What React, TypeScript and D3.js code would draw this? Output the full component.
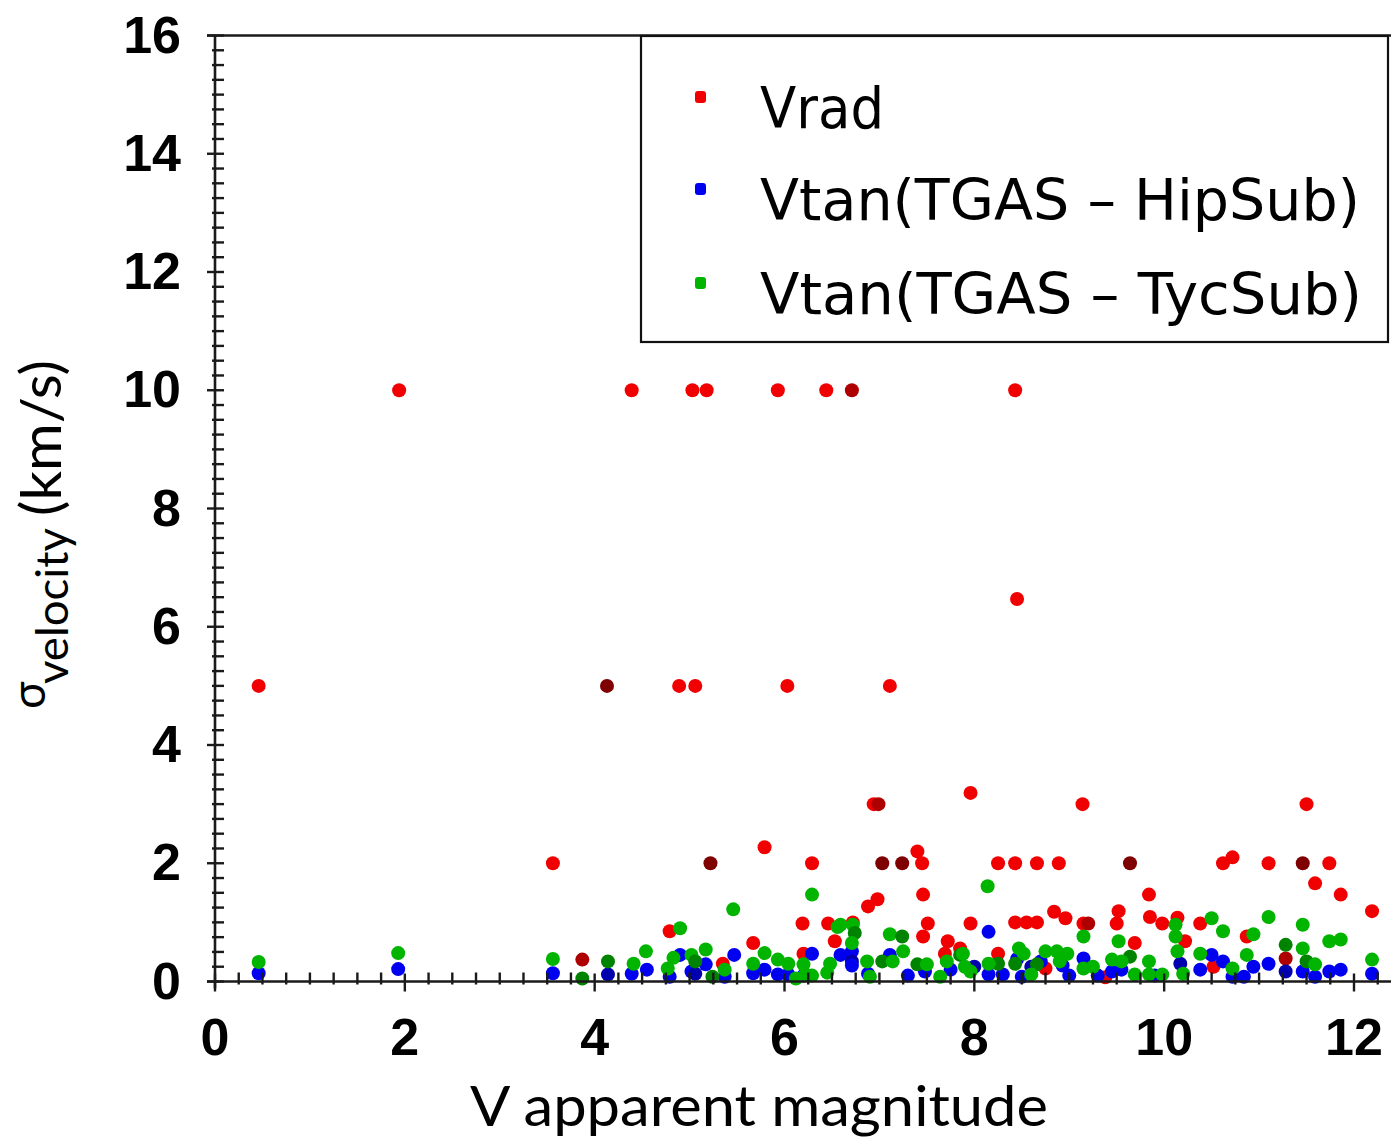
import React from "react";
import * as d3 from "d3";

// [V magnitude, sigma (km/s), number of coincident stars]
const vradPoints: [number, number, number][] = [
  [0.46, 5.0, 1], [1.94, 10, 1], [3.56, 2, 1], [3.87, 0.37, 2], [4.13, 5, 3],
  [4.39, 10, 1], [4.89, 5, 1], [5.06, 5, 1], [5.03, 10, 1], [5.18, 10, 1],
  [5.93, 10, 1], [6.44, 10, 1], [6.71, 10, 2], [8.43, 10, 1], [8.45, 6.47, 1],
  [6.03, 5, 1], [7.11, 5, 1], [5.22, 2, 3], [5.79, 2.27, 1], [6.29, 2, 1],
  [6.94, 3.0, 1], [6.99, 3.0, 2], [7.03, 2, 3], [7.24, 2, 3], [7.4, 2.2, 1],
  [7.45, 2, 1], [7.46, 1.47, 1], [7.51, 0.98, 1], [7.46, 0.76, 1], [7.96, 3.19, 1],
  [7.96, 0.98, 1], [7.72, 0.68, 1], [7.69, 0.47, 1], [7.85, 0.56, 1], [6.19, 0.98, 1],
  [6.2, 0.47, 1], [6.46, 0.98, 1], [6.53, 0.68, 1], [6.72, 1.0, 1], [6.88, 1.27, 1],
  [6.98, 1.39, 1], [4.79, 0.85, 1], [5.35, 0.3, 1], [5.67, 0.65, 1], [8.25, 2, 1],
  [8.43, 2, 1], [8.66, 2, 1], [8.89, 2, 1], [9.14, 3.0, 1], [9.64, 2, 3],
  [10.62, 2, 1], [10.72, 2.1, 1], [11.1, 2, 1], [11.46, 2, 3], [11.74, 2, 1],
  [11.5, 3.0, 1], [11.59, 1.66, 1], [11.86, 1.47, 1], [12.19, 1.19, 1], [8.43, 1.0, 1],
  [8.55, 1.0, 1], [8.66, 1.0, 1], [8.84, 1.18, 1], [8.96, 1.07, 1], [9.15, 0.98, 1],
  [9.2, 0.98, 2], [9.52, 1.19, 1], [9.5, 0.98, 1], [9.84, 1.47, 1], [9.85, 1.09, 1],
  [9.98, 0.98, 1], [10.14, 1.08, 1], [10.22, 0.68, 1], [10.38, 0.98, 1], [10.52, 0.25, 1],
  [10.87, 0.76, 1], [8.25, 0.47, 1], [9.69, 0.65, 1], [11.28, 0.39, 2], [9.38, 0.07, 1],
  [8.75, 0.22, 1],
];

const hipSubPoints: [number, number, number][] = [
  [0.46, 0.14, 1], [1.93, 0.21, 1], [3.56, 0.14, 1], [4.14, 0.12, 2], [4.39, 0.13, 1],
  [4.55, 0.2, 1], [4.79, 0.08, 1], [4.9, 0.45, 1], [5.02, 0.17, 1], [5.06, 0.13, 2],
  [5.17, 0.29, 1], [5.37, 0.08, 1], [5.47, 0.45, 1], [5.67, 0.14, 1], [5.79, 0.2, 1],
  [5.93, 0.12, 1], [6.04, 0.12, 1], [6.29, 0.47, 1], [6.59, 0.45, 1], [6.71, 0.51, 1],
  [6.71, 0.34, 2], [6.71, 0.27, 1], [6.88, 0.13, 1], [7.11, 0.45, 1], [7.48, 0.17, 1],
  [7.75, 0.2, 1], [8.0, 0.25, 2], [8.15, 0.84, 1], [8.15, 0.12, 1], [8.3, 0.12, 1],
  [8.5, 0.08, 1], [8.6, 0.25, 2], [8.7, 0.34, 1], [8.93, 0.27, 1], [9.0, 0.1, 1],
  [9.15, 0.39, 1], [9.3, 0.1, 1], [9.45, 0.17, 1], [9.55, 0.2, 1], [9.9, 0.1, 1],
  [10.17, 0.3, 2], [10.38, 0.2, 1], [10.5, 0.45, 1], [10.62, 0.34, 1], [10.72, 0.08, 1],
  [10.84, 0.08, 1], [10.94, 0.25, 1], [11.1, 0.3, 1], [11.28, 0.17, 2], [11.46, 0.17, 1],
  [11.59, 0.08, 1], [11.74, 0.17, 1], [11.86, 0.2, 1], [12.19, 0.13, 1], [8.45, 0.38, 1],
  [7.3, 0.1, 1], [6.2, 0.1, 1],
];

const tycSubPoints: [number, number, number][] = [
  [0.46, 0.33, 1], [1.93, 0.48, 1], [3.56, 0.38, 1], [3.87, 0.05, 2], [4.14, 0.34, 2],
  [4.41, 0.3, 1], [4.54, 0.51, 1], [4.77, 0.22, 1], [4.83, 0.4, 1], [4.9, 0.9, 1],
  [5.02, 0.45, 1], [5.06, 0.34, 2], [5.17, 0.54, 1], [5.24, 0.08, 2], [5.37, 0.2, 1],
  [5.46, 1.22, 1], [5.67, 0.3, 1], [5.79, 0.48, 1], [5.93, 0.37, 1], [6.04, 0.3, 1],
  [6.2, 0.29, 1], [6.22, 0.12, 1], [6.29, 1.47, 1], [6.29, 0.1, 1], [6.48, 0.3, 1],
  [6.45, 0.15, 1], [6.59, 0.96, 1], [6.72, 0.96, 1], [6.74, 0.82, 2], [6.71, 0.65, 1],
  [6.87, 0.34, 1], [6.9, 0.08, 1], [7.11, 0.8, 1], [7.24, 0.76, 2], [7.25, 0.51, 1],
  [7.03, 0.34, 2], [7.14, 0.34, 1], [7.4, 0.29, 2], [7.5, 0.29, 1], [7.64, 0.08, 1],
  [7.71, 0.34, 1], [7.85, 0.45, 2], [7.9, 0.25, 1], [7.88, 0.47, 1], [7.96, 0.17, 1],
  [8.14, 1.61, 1], [8.25, 0.3, 2], [8.15, 0.3, 1], [8.47, 0.56, 1], [8.52, 0.47, 1],
  [8.43, 0.3, 2], [8.66, 0.29, 2], [8.6, 0.12, 1], [8.75, 0.51, 1], [8.87, 0.51, 1],
  [8.98, 0.47, 1], [8.9, 0.34, 1], [9.15, 0.76, 1], [9.15, 0.22, 1], [9.25, 0.25, 1],
  [9.52, 0.68, 1], [9.45, 0.37, 1], [9.64, 0.42, 2], [9.55, 0.34, 1], [9.69, 0.12, 1],
  [9.84, 0.34, 1], [9.84, 0.12, 1], [9.98, 0.12, 1], [10.12, 0.96, 1], [10.12, 0.76, 1],
  [10.14, 0.51, 1], [10.2, 0.13, 1], [10.38, 0.47, 1], [10.5, 1.07, 1], [10.62, 0.85, 1],
  [10.72, 0.22, 1], [10.87, 0.45, 1], [10.94, 0.8, 1], [11.1, 1.09, 1], [11.28, 0.62, 2],
  [11.46, 0.96, 1], [11.46, 0.56, 1], [11.5, 0.34, 2], [11.59, 0.29, 1], [11.74, 0.68, 1],
  [11.86, 0.71, 1], [12.19, 0.37, 1], [6.12, 0.05, 1], [6.56, 0.92, 1],
];

const xTickValues = [0, 2, 4, 6, 8, 10, 12];
const yTickValues = [0, 2, 4, 6, 8, 10, 12, 14, 16];
const seriesNames = ["Vrad", "Vtan(TGAS \u2013 HipSub)", "Vtan(TGAS \u2013 TycSub)"];
const seriesColors = ["#f00000", "#0000f0", "#00b400"];
const xTitle = "V apparent magnitude";

export default function App() {
  const W = 1391;
  const H = 1138;
  const x = d3.scaleLinear().domain([0, 12]).range([215, 1354]);
  const y = d3.scaleLinear().domain([0, 16]).range([981.5, 35.5]);
  const x0 = x(0);
  const y0 = y(0);
  const axisColor = "#1a1a1a";
  const xMinor = d3.range(0, 12.3, 0.25).filter((v) => Math.abs(v % 2) > 1e-6);
  const yMinor = d3.range(0, 16, 0.25).filter((v) => Math.abs(v % 2) > 1e-6);
  const series = [vradPoints, hipSubPoints, tycSubPoints];
  const tickFont = "'Liberation Sans', Arial, sans-serif";

  return (
    <div style={{ position: "absolute", left: 0, top: 0 }}>
      <svg width={W} height={H} style={{ display: "block", background: "#fff" }}>
        <rect x={0} y={0} width={W} height={H} fill="#fff" />
        {/* points */}
        {series.map((pts, si) => (
          <g key={si}>
            {pts.map((p, i) => {
              const c = d3.color(seriesColors[si])!;
              const fill = p[2] > 1 ? c.darker((p[2] - 1) * 0.9).formatHex() : seriesColors[si];
              return <circle key={i} cx={x(p[0])} cy={y(p[1])} r={7} fill={fill} />;
            })}
          </g>
        ))}
        {/* axes */}
        <line x1={x0} x2={x0} y1={y(16)} y2={y0 + 7} stroke={axisColor} strokeWidth={2.6} />
        <line x1={x0 - 8} x2={W} y1={y0} y2={y0} stroke={axisColor} strokeWidth={2.6} />
        <line x1={x0 - 8} x2={W} y1={y(16)} y2={y(16)} stroke={axisColor} strokeWidth={2.6} />
        {xMinor.map((v, i) => (
          <line key={"xm" + i} x1={x(v)} x2={x(v)} y1={y0 - 9} y2={y0 + 3} stroke={axisColor} strokeWidth={2.4} />
        ))}
        {xTickValues.map((v) => (
          <line key={"xM" + v} x1={x(v)} x2={x(v)} y1={y0 - 8} y2={y0 + 10} stroke={axisColor} strokeWidth={2.4} />
        ))}
        {yMinor.map((v, i) => (
          <line key={"ym" + i} x1={x0 - 3} x2={x0 + 9} y1={y(v)} y2={y(v)} stroke={axisColor} strokeWidth={2.4} />
        ))}
        {yTickValues.map((v) => (
          <line key={"yM" + v} x1={x0 - 8} x2={x0 + 9} y1={y(v)} y2={y(v)} stroke={axisColor} strokeWidth={2.4} />
        ))}
        {/* tick labels */}
        {xTickValues.map((v) => (
          <text key={"xl" + v} x={x(v)} y={1037} textAnchor="middle" dominantBaseline="central"
            fontFamily={tickFont} fontWeight="bold" fontSize={52} fill="#000">
            {v}
          </text>
        ))}
        {yTickValues.map((v) => (
          <text key={"yl" + v} x={181} y={y(v) - 1} textAnchor="end" dominantBaseline="central"
            fontFamily={tickFont} fontWeight="bold" fontSize={52} fill="#000">
            {v}
          </text>
        ))}
        {/* axis titles */}
        <text x={470} y={1126} fontFamily="Lato, 'Open Sans', sans-serif" fontSize={56}
          textLength={578} lengthAdjust="spacingAndGlyphs" fill="#000">
          {xTitle}
        </text>
        <g transform="rotate(-90)" fontFamily="Lato, 'Open Sans', sans-serif" fill="#000">
          <text x={-709} y={45} fontSize={46}>σ</text>
          <text x={-684} y={68} fontSize={44} textLength={156} lengthAdjust="spacingAndGlyphs">velocity</text>
          <text x={-516} y={61} fontSize={56} textLength={156} lengthAdjust="spacingAndGlyphs">(km/s)</text>
        </g>
        {/* legend */}
        <rect x={641} y={36} width={747} height={306} fill="#fff" stroke="#111" strokeWidth={2.2} />
        {seriesNames.map((name, i) => {
          const cy = [97, 189, 283][i];
          const tl = [124, 600, 602][i];
          return (
            <g key={name}>
              <rect x={695} y={cy - 6} width={11} height={12} rx={3} fill={seriesColors[i]} />
              <text x={760} y={cy + 31} fontFamily="'DejaVu Sans', Verdana, sans-serif" fontSize={57}
                textLength={tl} lengthAdjust="spacingAndGlyphs" fill="#000">
                {name}
              </text>
            </g>
          );
        })}
      </svg>
    </div>
  );
}
